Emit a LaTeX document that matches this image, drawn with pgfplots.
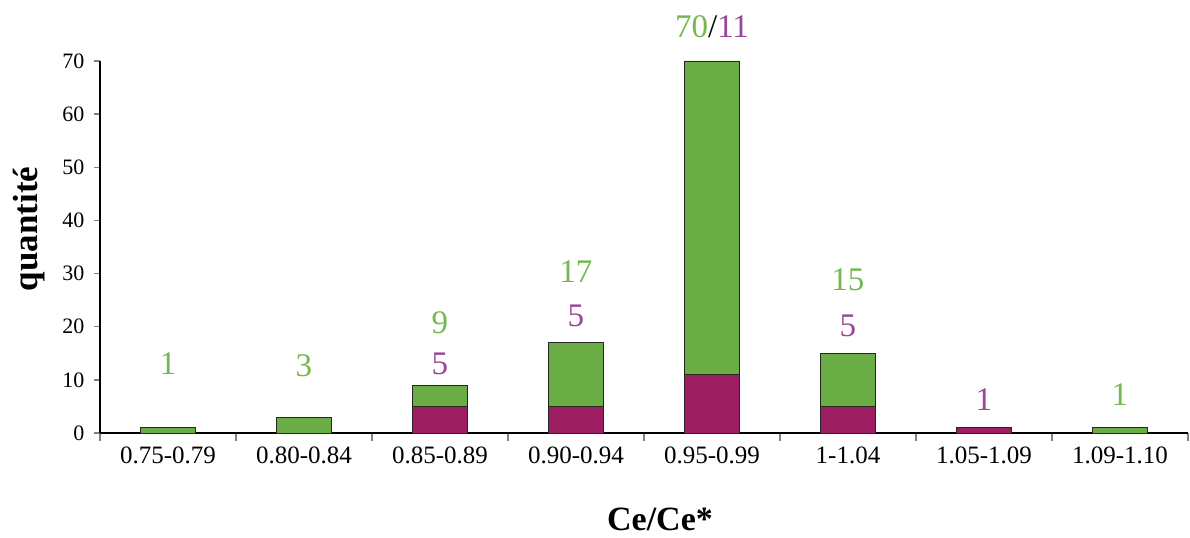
\documentclass[border=0pt]{standalone}
\usepackage{pgfplots}
\pgfplotsset{compat=1.18}
\usepackage{fontspec}
\setmainfont{Liberation Serif}
\definecolor{bg}{RGB}{106,173,69}
\definecolor{bm}{RGB}{158,30,98}
\definecolor{tg}{RGB}{117,184,80}
\definecolor{tm}{RGB}{155,70,150}
\begin{document}
\begin{tikzpicture}
\begin{axis}[
  scale only axis, width=1088bp, height=372bp,
  xmin=-0.5, xmax=7.5, ymin=0, ymax=70,
  axis x line*=bottom, axis y line*=left,
  axis line style={-, line width=1.4pt},
  xtick={0,...,7},
  xticklabels={0.75-0.79,0.80-0.84,0.85-0.89,0.90-0.94,0.95-0.99,1-1.04,1.05-1.09,1.09-1.10},
  major x tick style={draw=none},
  minor xtick={-0.5,0.5,...,7.5},
  minor x tick style={line width=1.4pt},
  minor tick length=8bp,
  ytick={0,10,...,70},
  y tick style={line width=1.4pt},
  major tick length=6bp,
  tick align=outside,
  /pgf/number format/assume math mode=true,
  yticklabel style={font=\fontsize{22bp}{24bp}\selectfont, xshift=-6bp},
  xticklabel style={font=\fontsize{25bp}{27bp}\selectfont, yshift=-4bp},
  clip=false,
  ybar, bar width=0.4, bar shift=0,
]
\addplot[fill=bg, draw=black!85, line width=0.8pt] coordinates {(0,1) (1,3) (2,9) (3,17) (4,70) (5,15) (7,1)};
\addplot[fill=bm, draw=black!85, line width=0.8pt] coordinates {(2,5) (3,5) (4,11) (5,5) (6,1)};
\begin{scope}[every node/.style={font=\fontsize{33bp}{35bp}\selectfont}]
\node[text=tg] at (axis cs:0,13.0) {1};
\node[text=tg] at (axis cs:1,12.6) {3};
\node[text=tg] at (axis cs:2,20.7) {9};
\node[text=tm] at (axis cs:2,13.0) {5};
\node[text=tg] at (axis cs:3,30.3) {17};
\node[text=tm] at (axis cs:3,22.0) {5};
\node at (axis cs:4,76.4) {\textcolor{tg}{70}/\textcolor{tm}{11}};
\node[text=tg] at (axis cs:5,28.8) {15};
\node[text=tm] at (axis cs:5,20.1) {5};
\node[text=tm] at (axis cs:6,6.2) {1};
\node[text=tg] at (axis cs:7,7.2) {1};
\end{scope}
\end{axis}
\node[font=\fontsize{34bp}{36bp}\selectfont\bfseries] at (560bp,-86bp) {Ce/Ce*};
\node[font=\fontsize{35bp}{37bp}\selectfont\bfseries, rotate=90] at (-71bp,204bp) {quantité};
\pgfresetboundingbox
\path[use as bounding box] (-100bp,-105bp) rectangle (1090bp,433bp);
\end{tikzpicture}
\end{document}
